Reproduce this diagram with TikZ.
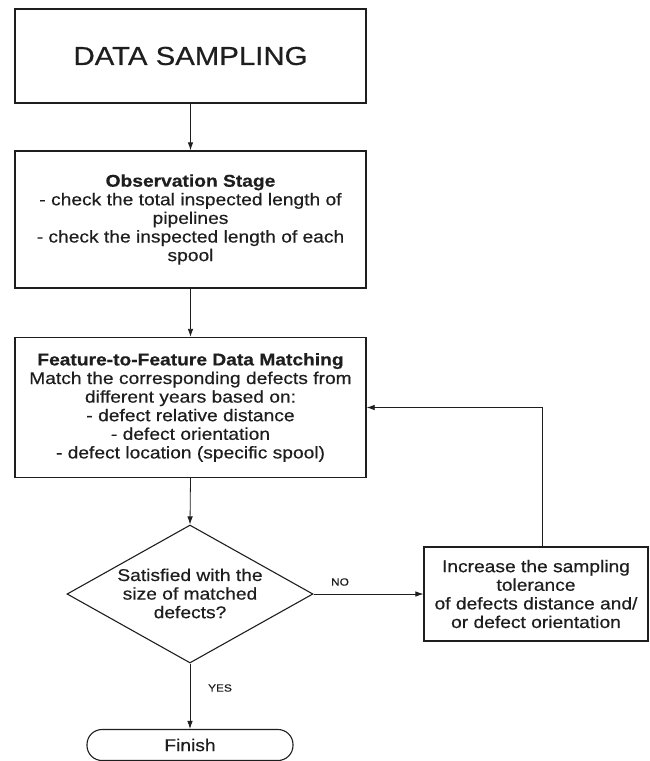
\documentclass[tikz,border=0pt]{standalone}
\usepackage{fontspec}
\setmainfont{Liberation Sans}[FakeStretch=1.13, FakeBold=0.5]
\usetikzlibrary{shapes.geometric,arrows.meta}
\definecolor{ink}{HTML}{1E1E1E}
\tikzset{
  boxnode/.style={draw=ink, line width=1.3pt, rectangle, inner sep=0pt, align=center,
    font=\fontsize{17}{18.6}\selectfont, text=ink},
  conn/.style={draw=ink, line width=0.8pt, -{Latex[length=8pt,width=5.5pt]}},
  lbl/.style={font=\fontsize{10.5}{12}\selectfont, text=ink, inner sep=0pt},
}
\begin{document}
\begin{tikzpicture}[x=1pt,y=-1pt]
\useasboundingbox (0,0) rectangle (649,761);
\node[boxnode, minimum width=351pt, minimum height=94pt, font=\fontsize{26}{30}\selectfont] (samp) at (190.5,56) {DATA SAMPLING};
\node[boxnode, minimum width=351pt, minimum height=137pt] (obs) at (190.5,219.5)
  {\textbf{Observation Stage}\\- check the total inspected length of\\pipelines\\- check the inspected length of each\\spool};
\node[boxnode, minimum width=351pt, minimum height=140pt] (match) at (190.5,407.5)
  {\textbf{Feature-to-Feature Data Matching}\\Match the corresponding defects from\\different years based on:\\- defect relative distance\\- defect orientation\\- defect location (specific spool)};
\node[diamond, draw=ink, line width=1.1pt, minimum width=246pt, minimum height=138pt, inner sep=0pt] (dec) at (190,594) {};
\node[align=center, font=\fontsize{17}{18.6}\selectfont, text=ink, inner sep=0pt] (dectext) at (190,593.5)
  {Satisfied with the\\size of matched\\defects?};
\node[boxnode, line width=1.1pt, minimum width=224pt, minimum height=94pt] (inc) at (536,594)
  {Increase the sampling\\tolerance\\of defects distance and/\\or defect orientation};
\node[boxnode, line width=1.1pt, rounded corners=15pt, minimum width=206pt, minimum height=31pt] (fin) at (190,745) {Finish};
\coordinate (up) at (542,548);
\draw[conn] (samp.south) -- (obs.north);
\draw[conn] (obs.south) -- (match.north);
\draw[conn] (match.south) -- (dec.north);
\draw[conn] (dec.east) -- (inc.west);
\draw[conn] (dec.south) -- (fin.north);
\draw[conn] (up) |- (match.east);
\node[lbl] (no) at (340,582) {NO};
\node[lbl] (yes) at (220,688) {YES};
\end{tikzpicture}
\end{document}
